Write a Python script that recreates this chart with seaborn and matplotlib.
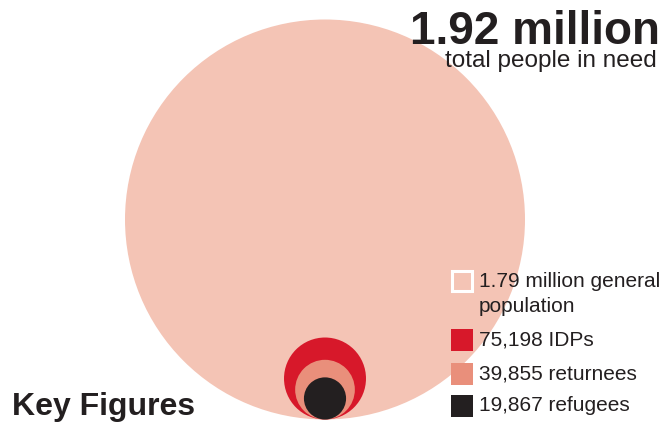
import matplotlib
matplotlib.use("Agg")
import matplotlib.pyplot as plt
from matplotlib.patches import Circle, Rectangle
import seaborn as sns
import numpy as np

# ---- data ----
categories = ["general population", "IDPs", "returnees", "refugees"]
values = [1790000, 75198, 39855, 19867]
legend_labels = [["1.79 million general", "population"], ["75,198 IDPs"],
                 ["39,855 returnees"], ["19,867 refugees"]]
colors = ["#F4C4B5", "#D7182A", "#E98F7B", "#231F20"]
total_label = "1.92 million"
total_sub = "total people in need"
title = "Key Figures"

sns.set_theme(style="white")
plt.rcParams['font.family'] = ['Liberation Sans', 'DejaVu Sans']

fig = plt.figure(figsize=(6.65, 4.23), dpi=100)
ax = fig.add_axes([0, 0, 1, 1])
ax.set_xlim(0, 665)
ax.set_ylim(423, 0)
ax.set_aspect('equal')
ax.axis('off')

# area-proportional nested circles, bottom aligned
R_big = 200.0
cx, bottom = 325.0, 419.5
radii = [R_big * np.sqrt(v / values[0]) for v in values]
for r, c in zip(radii, colors):
    ax.add_patch(Circle((cx, bottom - r), r, facecolor=c, edgecolor='none'))

txt = "#231F20"
ax.text(660, 44, total_label, ha='right', va='baseline', fontsize=33, fontweight='bold', color=txt)
ax.text(657, 67, total_sub, ha='right', va='baseline', fontsize=17.5, color=txt)
ax.text(12, 415, title, ha='left', va='baseline', fontsize=23, fontweight='bold', color=txt)

# legend
box_x, box_w = 451, 22
rows_top = [270, 329, 363, 395]
baselines = [287, 346, 379, 411]
line_gap = 25
for i, (lines, c) in enumerate(zip(legend_labels, colors)):
    if i == 0:
        ax.add_patch(Rectangle((box_x + 1, rows_top[i] + 1), box_w - 2, box_w - 2,
                               facecolor=c, edgecolor='white', linewidth=2.2))
    else:
        ax.add_patch(Rectangle((box_x, rows_top[i]), box_w, box_w, facecolor=c, edgecolor='none'))
    for j, line in enumerate(lines):
        ax.text(479, baselines[i] + j * line_gap, line, ha='left', va='baseline',
                fontsize=15, color=txt)

fig.savefig("out.png", dpi=100)
